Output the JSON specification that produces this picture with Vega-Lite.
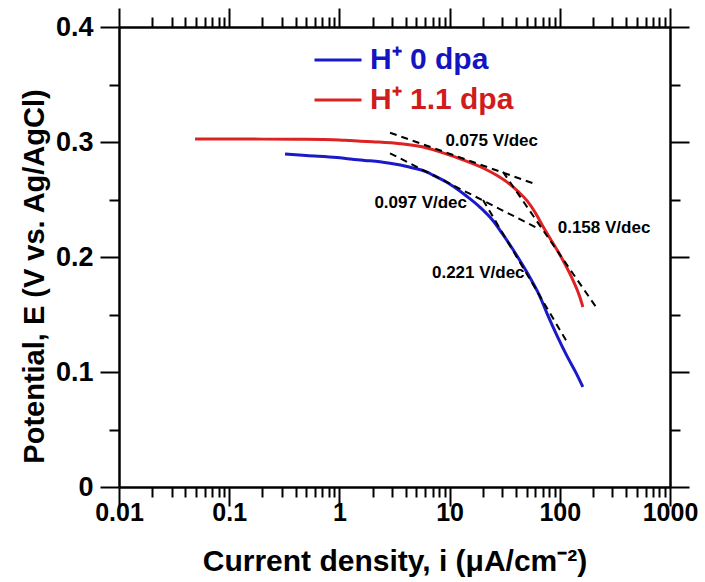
{
  "$schema": "https://vega.github.io/schema/vega-lite/v6.json",
  "autosize": {"type": "none"},
  "width": 551,
  "height": 460,
  "padding": {"left": 119, "top": 27, "right": 35, "bottom": 95},
  "background": "white",
  "config": {
    "view": {"stroke": null},
    "font": "Liberation Sans",
    "axis": {
      "grid": false,
      "domainColor": "black",
      "domainWidth": 2.5,
      "tickColor": "black",
      "tickWidth": 2,
      "labelFont": "Liberation Sans",
      "labelFontWeight": "bold",
      "labelColor": "black",
      "titleFont": "Liberation Sans",
      "titleFontWeight": "bold",
      "titleColor": "black",
      "labelOverlap": false,
      "labelFlush": false
    }
  },
  "datasets": {
    "curves": [
      {"i": 0.049, "E": 0.3026, "series": "H⁺ 1.1 dpa"},
      {"i": 0.1, "E": 0.3026, "series": "H⁺ 1.1 dpa"},
      {"i": 0.2, "E": 0.3025, "series": "H⁺ 1.1 dpa"},
      {"i": 0.4, "E": 0.3024, "series": "H⁺ 1.1 dpa"},
      {"i": 0.7, "E": 0.3022, "series": "H⁺ 1.1 dpa"},
      {"i": 1.0, "E": 0.3018, "series": "H⁺ 1.1 dpa"},
      {"i": 1.25, "E": 0.3012, "series": "H⁺ 1.1 dpa"},
      {"i": 2.0, "E": 0.3002, "series": "H⁺ 1.1 dpa"},
      {"i": 3.55, "E": 0.2985, "series": "H⁺ 1.1 dpa"},
      {"i": 6.24, "E": 0.2948, "series": "H⁺ 1.1 dpa"},
      {"i": 8.71, "E": 0.2906, "series": "H⁺ 1.1 dpa"},
      {"i": 13, "E": 0.2848, "series": "H⁺ 1.1 dpa"},
      {"i": 20.1, "E": 0.2774, "series": "H⁺ 1.1 dpa"},
      {"i": 27, "E": 0.2708, "series": "H⁺ 1.1 dpa"},
      {"i": 35.3, "E": 0.2632, "series": "H⁺ 1.1 dpa"},
      {"i": 42, "E": 0.2568, "series": "H⁺ 1.1 dpa"},
      {"i": 50.4, "E": 0.2490, "series": "H⁺ 1.1 dpa"},
      {"i": 60, "E": 0.2385, "series": "H⁺ 1.1 dpa"},
      {"i": 70.4, "E": 0.2265, "series": "H⁺ 1.1 dpa"},
      {"i": 88, "E": 0.2110, "series": "H⁺ 1.1 dpa"},
      {"i": 107, "E": 0.1970, "series": "H⁺ 1.1 dpa"},
      {"i": 130, "E": 0.1810, "series": "H⁺ 1.1 dpa"},
      {"i": 152, "E": 0.1652, "series": "H⁺ 1.1 dpa"},
      {"i": 162, "E": 0.1565, "series": "H⁺ 1.1 dpa"},
      {"i": 0.321, "E": 0.2896, "series": "H⁺ 0 dpa"},
      {"i": 0.5, "E": 0.2882, "series": "H⁺ 0 dpa"},
      {"i": 0.951, "E": 0.2865, "series": "H⁺ 0 dpa"},
      {"i": 1.25, "E": 0.2852, "series": "H⁺ 0 dpa"},
      {"i": 1.7, "E": 0.2840, "series": "H⁺ 0 dpa"},
      {"i": 2.33, "E": 0.2828, "series": "H⁺ 0 dpa"},
      {"i": 2.88, "E": 0.2815, "series": "H⁺ 0 dpa"},
      {"i": 4.3, "E": 0.2782, "series": "H⁺ 0 dpa"},
      {"i": 6.24, "E": 0.2738, "series": "H⁺ 0 dpa"},
      {"i": 7.06, "E": 0.2712, "series": "H⁺ 0 dpa"},
      {"i": 10, "E": 0.2635, "series": "H⁺ 0 dpa"},
      {"i": 14.4, "E": 0.2526, "series": "H⁺ 0 dpa"},
      {"i": 19, "E": 0.2430, "series": "H⁺ 0 dpa"},
      {"i": 24.8, "E": 0.2315, "series": "H⁺ 0 dpa"},
      {"i": 30, "E": 0.2205, "series": "H⁺ 0 dpa"},
      {"i": 37.6, "E": 0.2065, "series": "H⁺ 0 dpa"},
      {"i": 45, "E": 0.1945, "series": "H⁺ 0 dpa"},
      {"i": 53.7, "E": 0.1820, "series": "H⁺ 0 dpa"},
      {"i": 65, "E": 0.1670, "series": "H⁺ 0 dpa"},
      {"i": 76.5, "E": 0.1510, "series": "H⁺ 0 dpa"},
      {"i": 95, "E": 0.1310, "series": "H⁺ 0 dpa"},
      {"i": 116, "E": 0.1140, "series": "H⁺ 0 dpa"},
      {"i": 140, "E": 0.0995, "series": "H⁺ 0 dpa"},
      {"i": 162, "E": 0.0870, "series": "H⁺ 0 dpa"}
    ],
    "tangents": [
      {"seg": "a", "i": 2.88, "E": 0.3081},
      {"seg": "a", "i": 59.6, "E": 0.2635},
      {"seg": "b", "i": 2.88, "E": 0.2902},
      {"seg": "b", "i": 66, "E": 0.2240},
      {"seg": "c", "i": 30.5, "E": 0.274},
      {"seg": "c", "i": 222, "E": 0.154},
      {"seg": "d", "i": 20.1, "E": 0.2496},
      {"seg": "d", "i": 116, "E": 0.1263}
    ],
    "notes": [
      {"i": 24.1, "E": 0.3011, "text": "0.075 V/dec"},
      {"i": 5.47, "E": 0.2467, "text": "0.097 V/dec"},
      {"i": 252, "E": 0.2252, "text": "0.158 V/dec"},
      {"i": 18.2, "E": 0.1858, "text": "0.221 V/dec"}
    ]
  },
  "resolve": {"axis": {"x": "independent", "y": "independent"}},
  "layer": [
    {
      "data": {"name": "curves"},
      "mark": {"type": "line", "strokeWidth": 3, "clip": true, "interpolate": "monotone"},
      "encoding": {
        "x": {
          "field": "i", "type": "quantitative",
          "scale": {"type": "log", "domain": [0.01, 1000], "nice": false},
          "axis": {
            "orient": "bottom",
            "title": "Current density, i (μA/cm⁻²)",
            "titleFontSize": 30,
            "titlePadding": 21,
            "labelFontSize": 25,
            "labelPadding": -6,
            "values": [0.01, 0.1, 1, 10, 100, 1000],
            "format": "~g",
            "tickSize": 19
          }
        },
        "y": {
          "field": "E", "type": "quantitative",
          "scale": {"domain": [0, 0.4], "nice": false, "zero": false},
          "axis": {
            "orient": "left",
            "title": "Potential, E (V vs. Ag/AgCl)",
            "titleFontSize": 29,
            "titlePadding": 6,
            "titleY": 249,
            "labelFontSize": 27,
            "labelPadding": 7,
            "values": [0, 0.1, 0.2, 0.3, 0.4],
            "format": "~g",
            "tickSize": 19
          }
        },
        "color": {
          "field": "series", "type": "nominal",
          "scale": {"domain": ["H⁺ 0 dpa", "H⁺ 1.1 dpa"], "range": ["#1a1ac8", "#dd2222"]},
          "legend": {
            "orient": "none",
            "legendX": 194,
            "legendY": 8,
            "title": null,
            "padding": 0,
            "symbolType": "stroke",
            "symbolSize": 2209,
            "symbolStrokeWidth": 3,
            "labelFont": "Liberation Sans",
            "labelFontSize": 30,
            "labelFontWeight": "bold",
            "labelOffset": 7,
            "rowPadding": -10,
            "labelColor": {"expr": "datum.value == 'H⁺ 0 dpa' ? '#1414c0' : '#d01c1c'"}
          }
        },
        "detail": {"field": "series"}
      }
    },
    {
      "data": {"name": "notes"},
      "mark": {"type": "text", "font": "Liberation Sans", "fontWeight": "bold", "fontSize": 17, "color": "black", "align": "center", "baseline": "middle"},
      "encoding": {
        "x": {
          "field": "i", "type": "quantitative",
          "axis": {
            "orient": "bottom", "title": null, "labels": false, "domain": false, "tickSize": 10,
            "values": [0.02, 0.03, 0.04, 0.05, 0.06, 0.07, 0.08, 0.09, 0.2, 0.3, 0.4, 0.5, 0.6, 0.7, 0.8, 0.9, 2, 3, 4, 5, 6, 7, 8, 9, 20, 30, 40, 50, 60, 70, 80, 90, 200, 300, 400, 500, 600, 700, 800, 900]
          }
        },
        "y": {
          "field": "E", "type": "quantitative",
          "axis": {
            "orient": "left", "title": null, "labels": false, "domain": false, "tickSize": 10,
            "values": [0.05, 0.15, 0.25, 0.35]
          }
        },
        "text": {"field": "text"}
      }
    },
    {
      "data": {"name": "tangents"},
      "transform": [{"filter": "datum.seg == 'a' || datum.seg == 'b'"}],
      "mark": {"type": "line", "color": "black", "strokeWidth": 2, "strokeDash": [7, 5]},
      "encoding": {
        "x": {
          "field": "i", "type": "quantitative",
          "axis": {
            "orient": "top", "title": null, "labels": false, "tickSize": 19,
            "values": [0.01, 0.1, 1, 10, 100, 1000]
          }
        },
        "y": {
          "field": "E", "type": "quantitative",
          "axis": {
            "orient": "right", "title": null, "labels": false, "tickSize": 19,
            "values": [0, 0.1, 0.2, 0.3, 0.4]
          }
        },
        "detail": {"field": "seg"}
      }
    },
    {
      "data": {"name": "tangents"},
      "transform": [{"filter": "datum.seg == 'c' || datum.seg == 'd'"}],
      "mark": {"type": "line", "color": "black", "strokeWidth": 2, "strokeDash": [7, 5]},
      "encoding": {
        "x": {
          "field": "i", "type": "quantitative",
          "axis": {
            "orient": "top", "title": null, "labels": false, "domain": false, "tickSize": 10,
            "values": [0.02, 0.03, 0.04, 0.05, 0.06, 0.07, 0.08, 0.09, 0.2, 0.3, 0.4, 0.5, 0.6, 0.7, 0.8, 0.9, 2, 3, 4, 5, 6, 7, 8, 9, 20, 30, 40, 50, 60, 70, 80, 90, 200, 300, 400, 500, 600, 700, 800, 900]
          }
        },
        "y": {
          "field": "E", "type": "quantitative",
          "axis": {
            "orient": "right", "title": null, "labels": false, "domain": false, "tickSize": 10,
            "values": [0.05, 0.15, 0.25, 0.35]
          }
        },
        "detail": {"field": "seg"}
      }
    }
  ]
}
